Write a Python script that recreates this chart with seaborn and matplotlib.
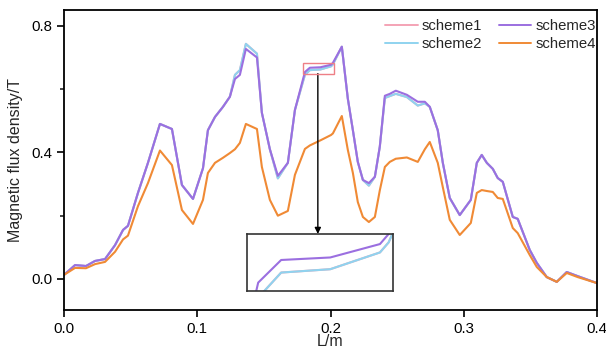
import numpy as np
import pandas as pd
import seaborn as sns
import matplotlib.pyplot as plt

# Data
L = [0.0, 0.0083, 0.0165, 0.0233, 0.0308, 0.0383, 0.0443, 0.048, 0.0555, 0.063,
     0.072, 0.081, 0.0885, 0.0968, 0.1043, 0.108, 0.1133, 0.1193, 0.1245, 0.1283,
     0.132, 0.1365, 0.1448, 0.1485, 0.1545, 0.1605, 0.168, 0.1733, 0.1808, 0.1845,
     0.1924, 0.2004, 0.2018, 0.2085, 0.213, 0.2168, 0.2205, 0.2243, 0.2288, 0.2333, 0.237,
     0.2408, 0.2445, 0.249, 0.2573, 0.2655, 0.2708, 0.2745, 0.2805, 0.2843, 0.2895,
     0.297, 0.3053, 0.3098, 0.3135, 0.3173, 0.3218, 0.3255, 0.3293, 0.3368, 0.3405,
     0.3495, 0.3548, 0.3623, 0.3698, 0.3773, 0.3855, 0.4]
scheme3 = [0.013, 0.044, 0.041, 0.057, 0.063, 0.107, 0.155, 0.168, 0.272, 0.367,
           0.49, 0.474, 0.297, 0.253, 0.35, 0.47, 0.512, 0.544, 0.576, 0.632,
           0.645, 0.727, 0.700, 0.525, 0.41, 0.326, 0.367, 0.534, 0.654, 0.6675,
           0.669, 0.677, 0.683, 0.734, 0.57, 0.47, 0.37, 0.313, 0.303, 0.323, 0.418,
           0.579, 0.585, 0.595, 0.582, 0.56, 0.56, 0.544, 0.47, 0.367, 0.256,
           0.202, 0.25, 0.367, 0.392, 0.367, 0.348, 0.319, 0.307, 0.196, 0.19,
           0.092, 0.051, 0.006, -0.009, 0.022, 0.009, -0.013]
scheme2 = [0.013, 0.044, 0.041, 0.057, 0.063, 0.107, 0.155, 0.168, 0.272, 0.367,
           0.49, 0.474, 0.297, 0.253, 0.35, 0.47, 0.512, 0.544, 0.576, 0.645,
           0.66, 0.743, 0.712, 0.525, 0.41, 0.318, 0.367, 0.534, 0.645, 0.660,
           0.662, 0.672, 0.678, 0.734, 0.57, 0.47, 0.37, 0.313, 0.295, 0.323, 0.418,
           0.572, 0.578, 0.585, 0.575, 0.548, 0.555, 0.544, 0.47, 0.367, 0.256,
           0.202, 0.25, 0.367, 0.392, 0.367, 0.348, 0.319, 0.307, 0.196, 0.19,
           0.092, 0.051, 0.006, -0.009, 0.022, 0.009, -0.013]
scheme1 = list(scheme2)
scheme4 = [0.013, 0.035, 0.034, 0.047, 0.054, 0.086, 0.125, 0.137, 0.23, 0.303,
           0.406, 0.36, 0.218, 0.174, 0.25, 0.335, 0.367, 0.383, 0.398, 0.41,
           0.43, 0.49, 0.474, 0.354, 0.25, 0.2, 0.215, 0.329, 0.411, 0.422,
           0.438, 0.455, 0.46, 0.515, 0.408, 0.335, 0.243, 0.196, 0.18, 0.196, 0.28,
           0.354, 0.37, 0.38, 0.384, 0.37, 0.41, 0.433, 0.367, 0.29, 0.187,
           0.139, 0.177, 0.272, 0.281, 0.278, 0.275, 0.256, 0.253, 0.161, 0.145,
           0.076, 0.038, 0.006, -0.009, 0.019, 0.006, -0.013]

names = ["scheme1", "scheme2", "scheme3", "scheme4"]
colors = ["#f4a3b5", "#8fd3ef", "#9b6fe0", "#f08a35"]

df = pd.DataFrame({"L": L * 4,
                   "B": scheme1 + scheme2 + scheme3 + scheme4,
                   "scheme": sum([[n] * len(L) for n in names], [])})

sns.set_style("ticks")
plt.rcParams['font.family'] = ['Liberation Sans', 'DejaVu Sans']

fig = plt.figure(figsize=(6.06, 3.56), dpi=100)
ax = fig.add_axes([64/606, 1 - 310/356, (597-64)/606, 300/356])

pal = dict(zip(names, colors))
sns.lineplot(data=df, x="L", y="B", hue="scheme", palette=pal,
             linewidth=1.5, ax=ax, legend=True, sort=False)

ax.set_xlim(0, 0.4)
ax.set_ylim(-0.098, 0.85)
ax.set_xticks([0.0, 0.1, 0.2, 0.3, 0.4])
ax.set_xticklabels(["0.0", "0.1", "0.2", "0.3", "0.4"])
ax.set_yticks([0.0, 0.4, 0.8])
ax.set_yticklabels(["0.0", "0.4", "0.8"])
ax.set_yticks([0.2, 0.6], minor=True)
ax.tick_params(axis='both', which='major', direction='out', length=5, width=1.2,
               labelsize=10.8, colors='black')
ax.tick_params(axis='y', which='minor', direction='out', length=3, width=1.2)
for s in ax.spines.values():
    s.set_visible(True)
    s.set_linewidth(1.3)
    s.set_color('black')
ax.set_xlabel("L/m", fontsize=11.5, labelpad=-1)
ax.set_ylabel("Magnetic flux density/T", fontsize=11.5, labelpad=6)

leg = ax.legend(loc="upper right", bbox_to_anchor=(1 + 3/533, 1 - 5/300),
                ncol=2, frameon=False, fontsize=10.7,
                handlelength=2.2, columnspacing=1.1, labelspacing=0.3,
                borderaxespad=0.05, handletextpad=0.3, borderpad=0.2)
for h in leg.get_lines():
    h.set_linewidth(1.4)

# zoom box
x0, x1, y0, y1 = 0.179, 0.2025, 0.649, 0.683
ax.add_patch(plt.Rectangle((x0, y0), x1 - x0, y1 - y0, fill=False,
                           edgecolor="#ee7f86", linewidth=1.0, zorder=5))

# inset
iax = fig.add_axes([247/606, 1 - 291/356, 146/606, 57/356])
sns.lineplot(data=df, x="L", y="B", hue="scheme", palette=pal,
             linewidth=1.5, ax=iax, legend=False, sort=False)
iax.set_xlim(x0, x1)
iax.set_ylim(y0, y1)
iax.set_xticks([])
iax.set_yticks([])
iax.set_xlabel("")
iax.set_ylabel("")
for s in iax.spines.values():
    s.set_visible(True)
    s.set_linewidth(1.2)
    s.set_color('#333333')

# arrow from box to inset
xm = (318 - 64) / 1333.3
ax.annotate("", xy=(xm, (279 - 234) / 316.25), xytext=(xm, y0),
            arrowprops=dict(arrowstyle="-|>", color="black", lw=1.0,
                            mutation_scale=9, shrinkA=0, shrinkB=0))

fig.savefig("out.png", dpi=100)
